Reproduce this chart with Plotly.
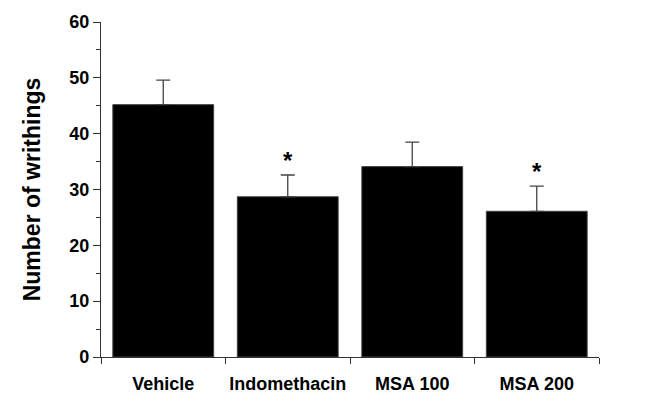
import plotly.graph_objects as go

categories = ["Vehicle", "Indomethacin", "MSA 100", "MSA 200"]
means = [45.2, 28.7, 34.1, 26.1]
errors = [4.4, 3.9, 4.4, 4.5]
significant = [False, True, False, True]
y_ticks = [0, 10, 20, 30, 40, 50, 60]

xpos = list(range(len(categories)))
boundaries = [i - 0.5 for i in range(len(categories) + 1)]

fig = go.Figure()
fig.add_trace(go.Bar(
    x=xpos, y=means, width=0.81,
    marker=dict(color="black", line=dict(color="#444", width=1)),
    error_y=dict(type="data", array=errors, symmetric=False, arrayminus=[0]*4,
                 color="#444", thickness=1.3, width=7),
))

for i, (m, e, s) in enumerate(zip(means, errors, significant)):
    if s:
        fig.add_annotation(x=i, y=m + e, text="<b>*</b>", showarrow=False,
                           yanchor="bottom", yshift=-1,
                           font=dict(family="Liberation Sans, Arial", size=24, color="black"))

fig.update_layout(
    width=658, height=401,
    margin=dict(l=93, r=67, t=14, b=52, autoexpand=False),
    paper_bgcolor="white", plot_bgcolor="white",
    showlegend=False,
    font=dict(family="Liberation Sans, Arial", color="black"),
)
fig.update_xaxes(
    range=[-0.5, 3.5], tickmode="array", tickvals=xpos,
    ticktext=[f"<b>{c}</b>" for c in categories],
    ticks="outside", ticklen=0, ticklabelstandoff=10,
    tickfont=dict(size=18), automargin=False,
    showline=True, linecolor="#333", linewidth=1.3, showgrid=False, zeroline=False,
    minor=dict(tickmode="array", tickvals=boundaries, ticks="outside", ticklen=6,
               tickcolor="#333", tickwidth=1.3, showgrid=False),
)
fig.update_yaxes(
    range=[0, 60], tickmode="array", tickvals=y_ticks,
    ticktext=[f"<b>{v}</b>" for v in y_ticks],
    ticks="outside", ticklen=7, tickwidth=1.3, tickcolor="#333",
    tickfont=dict(size=18), automargin=False,
    showline=True, linecolor="#333", linewidth=1.3, showgrid=False, zeroline=False,
    minor=dict(dtick=5, ticks="outside", ticklen=4, tickcolor="#333", tickwidth=1.3, showgrid=False),
    title=dict(text="<b>Number of writhings</b>", font=dict(size=23), standoff=22),
)

fig.write_html("out.html")
